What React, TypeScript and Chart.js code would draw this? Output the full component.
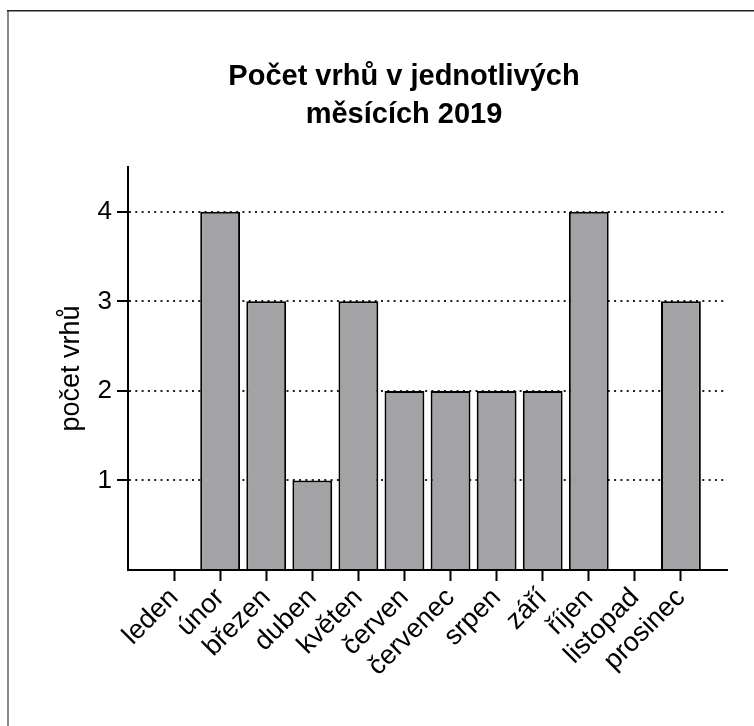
import React, { useEffect, useRef } from "react";
import { Chart, registerables } from "chart.js";

Chart.register(...registerables);

const titleLines = ["Počet vrhů v jednotlivých", "měsících 2019"];
const yAxisTitle = "počet vrhů";
const months = [
  "leden", "únor", "březen", "duben", "květen", "červen",
  "červenec", "srpen", "září", "říjen", "listopad", "prosinec",
];
const litters = [0, 4, 3, 1, 3, 2, 2, 2, 2, 4, 0, 3];
const yTicks = [1, 2, 3, 4];
const yMax = 4.5;

const FONT = "'Liberation Sans', Arial, sans-serif";

export default function App() {
  const ref = useRef<HTMLCanvasElement | null>(null);

  useEffect(() => {
    document.body.style.margin = "0";
    const canvas = ref.current;
    if (!canvas) return;

    // one empty slot on each side of the months
    const labels = ["", ...months, ""];
    const data = [null, ...litters, null];
    const lastIdx = labels.length - 1;

    const framePlugin = {
      id: "frame",
      beforeDraw(chart: any) {
        const ctx = chart.ctx;
        ctx.save();
        ctx.fillStyle = "#fff";
        ctx.fillRect(0, 0, chart.width, chart.height);
        ctx.strokeStyle = "#8a8a8a";
        ctx.lineWidth = 2;
        ctx.beginPath();
        ctx.moveTo(8, 10);
        ctx.lineTo(8, chart.height);
        ctx.stroke();
        ctx.strokeStyle = "#222";
        ctx.lineWidth = 1.5;
        ctx.beginPath();
        ctx.moveTo(7, 10.75);
        ctx.lineTo(chart.width, 10.75);
        ctx.stroke();
        ctx.restore();
      },
      afterDraw(chart: any) {
        const ctx = chart.ctx;
        ctx.save();
        ctx.fillStyle = "#000";
        ctx.font = `bold 29px ${FONT}`;
        ctx.textAlign = "center";
        ctx.textBaseline = "alphabetic";
        titleLines.forEach((line, i) => {
          ctx.fillText(line, 404, 85 + i * 38);
        });
        ctx.restore();
      },
    };

    const chart = new Chart(canvas, {
      type: "bar",
      data: {
        labels,
        datasets: [
          {
            data: data as any,
            backgroundColor: "#a3a3a6",
            borderColor: "#000",
            borderWidth: 2,
            borderSkipped: "start",
            barPercentage: 0.865,
            categoryPercentage: 1,
          },
        ],
      },
      options: {
        animation: false,
        responsive: false,
        maintainAspectRatio: false,
        layout: { padding: { left: 0, right: 27, top: 167, bottom: 0 } },
        plugins: {
          legend: { display: false },
          title: { display: false },
          tooltip: { enabled: false },
        },
        scales: {
          x: {
            type: "category",
            offset: false,
            afterFit: (s: any) => {
              s.height = 156;
            },
            grid: {
              display: true,
              offset: false,
              drawOnChartArea: false,
              drawTicks: true,
              tickLength: 11,
              tickWidth: 2,
              tickColor: (c: any) =>
                c.index === 0 || c.index === lastIdx ? "rgba(0,0,0,0)" : "#000",
            },
            border: { display: true, color: "#000", width: 2 },
            ticks: {
              autoSkip: false,
              maxRotation: 45,
              minRotation: 45,
              padding: 1,
              color: "#000",
              font: { family: FONT, size: 27 },
            },
          },
          y: {
            type: "linear",
            min: 0,
            max: yMax,
            afterFit: (s: any) => {
              s.width = 128;
            },
            afterBuildTicks: (s: any) => {
              s.ticks = [0, ...yTicks].map((v) => ({ value: v }));
            },
            grid: {
              display: true,
              drawOnChartArea: true,
              drawTicks: true,
              lineWidth: 2,
              color: (c: any) =>
                c.tick && c.tick.value === 0 ? "rgba(0,0,0,0)" : "#222",
              tickLength: 11,
              tickWidth: 2,
              tickBorderDash: [],
              tickColor: (c: any) =>
                c.tick && c.tick.value === 0 ? "rgba(0,0,0,0)" : "#000",
            },
            border: { display: true, color: "#000", width: 2, dash: [2, 4.3] },
            ticks: {
              includeBounds: false,
              padding: 5,
              color: "#000",
              font: { family: FONT, size: 26 },
              callback: (v: any) => (Number(v) === 0 ? "" : String(v)),
            },
            title: {
              display: true,
              text: yAxisTitle,
              color: "#000",
              font: { family: FONT, size: 27 },
              padding: { top: 55, bottom: 0 },
            },
          },
        },
      },
      plugins: [framePlugin],
    });

    return () => chart.destroy();
  }, []);

  return (
    <div style={{ width: 754, height: 726 }}>
      <canvas ref={ref} width={754} height={726} style={{ display: "block", width: 754, height: 726 }} />
    </div>
  );
}
